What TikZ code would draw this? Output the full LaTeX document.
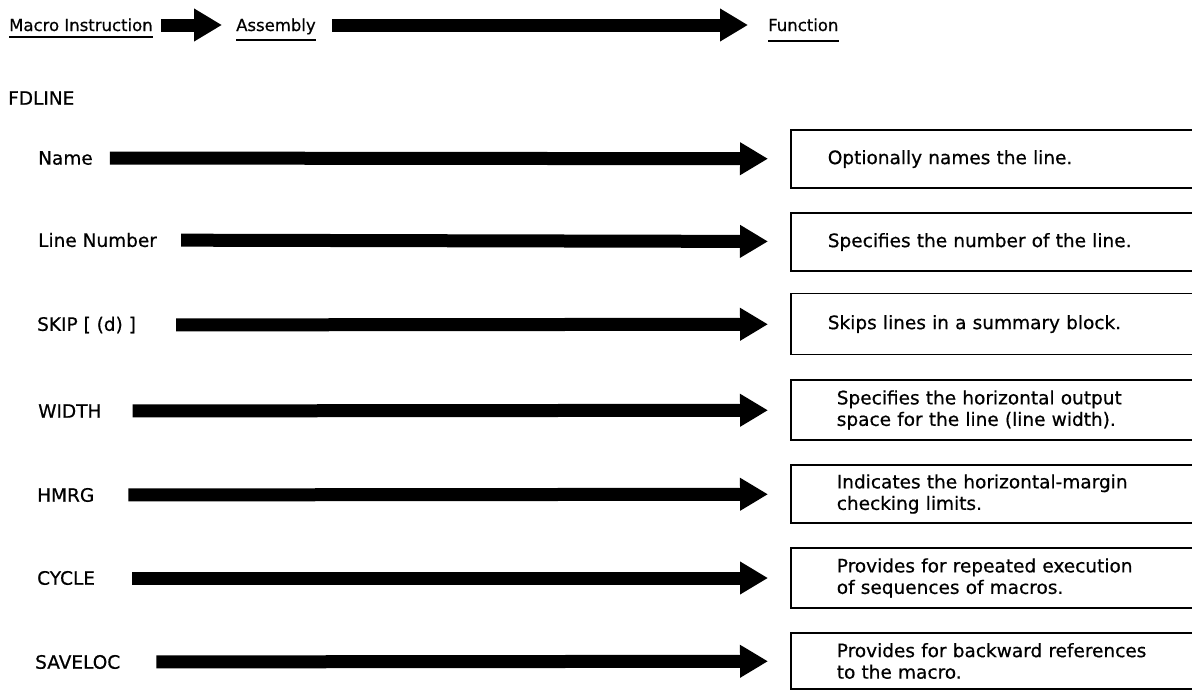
\documentclass[tikz,border=0pt]{standalone}
\usepackage{fontspec}
\setmainfont{DejaVu Sans}[FakeBold=0.6]
\usepackage{tikz}
\usetikzlibrary{arrows.meta,positioning}
\tikzset{
  labelnode/.style={anchor=west, inner sep=0pt, font=\fontsize{18.5}{22}\selectfont},
  headnode/.style={anchor=base west, inner sep=0pt, font=\fontsize{16.5}{20}\selectfont},
  funcnode/.style={draw=black, line width=1.6pt, anchor=west, minimum height=58pt,
    text width=420pt, inner xsep=37pt, align=left, font=\fontsize{18.5}{21.5}\selectfont},
  twoline/.style={funcnode, inner xsep=46pt, text width=402pt},
  fatedge/.style={-{Triangle[length=28pt, width=31pt]}, draw=black, line width=13pt},
  uline/.style={draw=black, line width=1.8pt},
}
\begin{document}
\begin{tikzpicture}[x=1pt, y=-1pt]
  \useasboundingbox (0,0) rectangle (1192,691);
  \clip (0,0) rectangle (1192,691);
  % header
  \node[headnode] (hmacro) at (9,31) {Macro Instruction};
  \node[headnode] (hasm) at (236,31) {Assembly};
  \node[headnode] (hfunc) at (768,31) {Function};
  \draw[uline] ([yshift=-6pt]hmacro.base west) -- ([yshift=-6pt]hmacro.base east);
  \draw[uline] ([yshift=-9pt]hasm.base west) -- ([yshift=-9pt]hasm.base east);
  \draw[uline] ([yshift=-10pt]hfunc.base west) -- ([yshift=-10pt]hfunc.base east);
  \draw[fatedge, shorten <=8pt, shorten >=14pt] ([yshift=6pt]hmacro.base east) -- ([yshift=6pt]hasm.base west);
  \draw[fatedge, shorten <=16pt, shorten >=20pt] ([yshift=6pt]hasm.base east) -- ([yshift=6pt]hfunc.base west);
  \node[labelnode] (fdline) at (8,98) {FDLINE};
  % parameters
  \node[labelnode] (name) at (38,158) {Name};
  \node[labelnode] (linenum) at (38,240) {Line Number};
  \node[labelnode] (skip) at (37,325) {SKIP [ (d) ]};
  \node[labelnode] (width) at (38,411) {WIDTH};
  \node[labelnode] (hmrg) at (37,495) {HMRG};
  \node[labelnode] (cycle) at (37,578) {CYCLE};
  \node[labelnode] (saveloc) at (35,662) {SAVELOC};
  % functions
  \node[funcnode] (fname) at (790,159) {Optionally names the line.};
  \node[funcnode] (flinenum) at (790,242) {Specifies the number of the line.};
  \node[funcnode, minimum height=61pt] (fskip) at (790,324) {Skips lines in a summary block.};
  \node[twoline, minimum height=60pt] (fwidth) at (790,410) {Specifies the horizontal output\\space for the line (line width).};
  \node[twoline] (fhmrg) at (790,494) {Indicates the horizontal-margin\\checking limits.};
  \node[twoline, minimum height=60pt] (fcycle) at (790,578) {Provides for repeated execution\\of sequences of macros.};
  \node[twoline, minimum height=56pt] (fsaveloc) at (790,661) {Provides for backward references\\to the macro.};
  \draw[fatedge, shorten <=17pt, shorten >=22pt] (name) -- (fname);
  \draw[fatedge, shorten <=24pt, shorten >=22pt] (linenum) -- (flinenum);
  \draw[fatedge, shorten <=40pt, shorten >=22pt] (skip) -- (fskip);
  \draw[fatedge, shorten <=31pt, shorten >=22pt] (width) -- (fwidth);
  \draw[fatedge, shorten <=34pt, shorten >=22pt] (hmrg) -- (fhmrg);
  \draw[fatedge, shorten <=37pt, shorten >=22pt] (cycle) -- (fcycle);
  \draw[fatedge, shorten <=36pt, shorten >=22pt] (saveloc) -- (fsaveloc);
\end{tikzpicture}
\end{document}
